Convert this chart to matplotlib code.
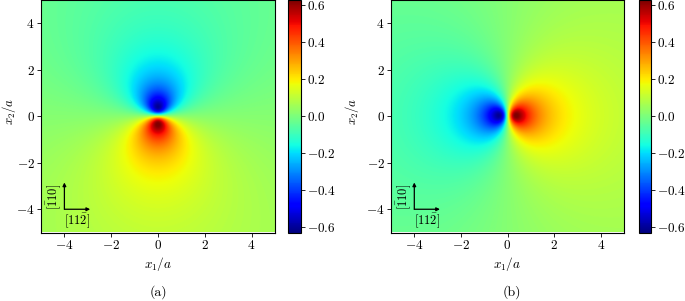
import numpy as np
import matplotlib
matplotlib.use("Agg")
import matplotlib.pyplot as plt
from matplotlib.ticker import FuncFormatter

plt.rcParams['font.family'] = 'serif'
plt.rcParams['font.serif'] = ['cmr10', 'DejaVu Serif']
plt.rcParams['mathtext.fontset'] = 'cm'
plt.rcParams['axes.unicode_minus'] = False

# --- values ---
panel_labels = ["(a)", "(b)"]
extent_lim = 5.0                 # x1/a, x2/a range
axis_ticks = [-4, -2, 0, 2, 4]
cbar_ticks = [-0.6, -0.4, -0.2, 0.0, 0.2, 0.4, 0.6]
cbar_limit = 0.627               # colour scale limit
peak_value = 0.62                # value at the dark lobe centres
core_radius = 0.38               # distance of lobe peak from origin
far_offset = 0.015               # slight positive bias of the far field
# lobe orientation of each panel: (a) along -x2, (b) along +x1
lobe_dirs = [(0.0, -1.0), (1.0, 0.0)]

n = 500
g = np.linspace(-extent_lim, extent_lim, n)
X1, X2 = np.meshgrid(g, g)

fig = plt.figure(figsize=(6.85, 3.01), dpi=100)
W, H = 685.0, 301.0
ax_px = [(41, 275), (391, 624)]
cb_px = [(288, 301), (639, 651)]
label_x = [158, 512]
ylabel_right = [17.5, 361]
y_top, y_bot = 0.0, 232.5

for i in range(2):
    l, r = ax_px[i]
    aw, ah = r - l, y_bot - y_top
    ax = fig.add_axes([l / W, 1 - y_bot / H, aw / W, ah / H])
    dx, dy = lobe_dirs[i]
    amp = peak_value * 2 * core_radius
    F = amp * (dx * X1 + dy * X2) / (X1**2 + X2**2 + core_radius**2) + far_offset
    im = ax.imshow(F, origin='lower', cmap='jet', vmin=-cbar_limit, vmax=cbar_limit,
                   extent=[-extent_lim, extent_lim, -extent_lim, extent_lim],
                   interpolation='bilinear', aspect='auto')
    ax.set_xticks(axis_ticks)
    ax.set_yticks(axis_ticks)
    fmt = FuncFormatter(lambda v, p: "$%d$" % v)
    ax.xaxis.set_major_formatter(fmt)
    ax.yaxis.set_major_formatter(fmt)
    ax.tick_params(labelsize=9.5, length=3, width=0.6, pad=1.5)
    ax.set_xlabel(r"$x_1/a$", fontsize=9.5)
    ax.set_ylabel(r"$x_2/a$", fontsize=9.2)
    ax.xaxis.set_label_coords(0.5, -(255 - y_bot) / ah)
    ax.yaxis.set_label_coords(-(l - ylabel_right[i]) / aw, 0.52)
    for s in ax.spines.values():
        s.set_linewidth(0.8)

    # crystal direction inset
    ox, oy = -4.0, -4.0
    ax.annotate("", xy=(ox, oy + 1.15), xytext=(ox, oy),
                arrowprops=dict(arrowstyle='-|>', lw=0.9, color='black',
                                mutation_scale=5, shrinkA=0, shrinkB=0))
    ax.annotate("", xy=(ox + 1.1, oy), xytext=(ox, oy),
                arrowprops=dict(arrowstyle='-|>', lw=0.9, color='black',
                                mutation_scale=5, shrinkA=0, shrinkB=0))
    ax.text(ox - 0.05, oy + 0.55, r"$[\bar{1}10]$", rotation=90, ha='right',
            va='center', fontsize=9)
    ax.text(ox - 0.02, oy - 0.08, r"$[11\bar{2}]$", ha='left', va='top', fontsize=9)

    cl, cr = cb_px[i]
    cax = fig.add_axes([cl / W, 1 - y_bot / H, (cr - cl) / W, ah / H])
    cb = fig.colorbar(im, cax=cax, ticks=cbar_ticks)
    cb.ax.yaxis.set_major_formatter(FuncFormatter(lambda v, p: "$%.1f$" % v))
    cb.ax.tick_params(labelsize=9.5, length=3, width=0.6, pad=1.5)
    cb.outline.set_linewidth(0.8)

    fig.text(label_x[i] / W, 1 - 292 / H, panel_labels[i], ha='center', va='center',
             fontsize=10)

fig.savefig("out.png", dpi=100)
